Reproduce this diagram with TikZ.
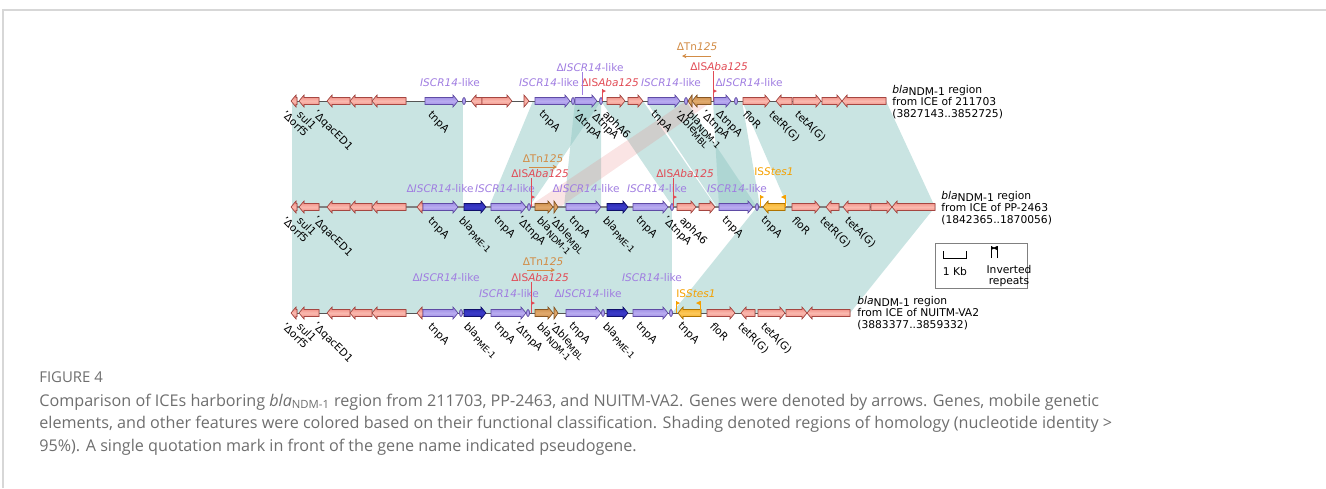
\documentclass[tikz,border=0pt]{standalone}
\usepackage{fontspec}
\setmainfont{DejaVu Sans}
\newfontfamily\capfont{Open Sans}
\usetikzlibrary{arrows.meta}

\definecolor{gpink}{RGB}{238,130,120}
\definecolor{gpinkl}{RGB}{250,185,175}
\definecolor{gpinkd}{RGB}{165,70,65}
\definecolor{gpurple}{RGB}{150,130,225}
\definecolor{gpurplel}{RGB}{185,172,240}
\definecolor{gpurpled}{RGB}{95,75,165}
\definecolor{gblue}{RGB}{35,35,170}
\definecolor{gbluel}{RGB}{60,60,200}
\definecolor{gblued}{RGB}{15,15,105}
\definecolor{gndm}{RGB}{200,135,65}
\definecolor{gndml}{RGB}{225,170,110}
\definecolor{gndmd}{RGB}{135,85,35}
\definecolor{gstes}{RGB}{245,170,30}
\definecolor{gstesl}{RGB}{252,200,90}
\definecolor{gstesd}{RGB}{175,115,0}
\definecolor{cisr}{RGB}{160,125,225}
\definecolor{caba}{RGB}{225,75,85}
\definecolor{ctn}{RGB}{210,140,70}
\definecolor{cstes}{RGB}{245,160,0}
\definecolor{chomo}{RGB}{147,201,197}
\definecolor{cinv}{RGB}{230,130,130}
\definecolor{bbone}{RGB}{85,85,85}
\definecolor{capgray}{RGB}{110,110,110}
\definecolor{framec}{RGB}{215,215,215}

\tikzset{
  pinkgene/.style={draw=gpinkd, line width=0.35pt, top color=gpink, bottom color=gpink, middle color=gpinkl},
  isgene/.style={draw=gpurpled, line width=0.35pt, top color=gpurple, bottom color=gpurple, middle color=gpurplel},
  pmegene/.style={draw=gblued, line width=0.35pt, top color=gblue, bottom color=gblue, middle color=gbluel},
  ndmgene/.style={draw=gndmd, line width=0.35pt, top color=gndm, bottom color=gndm, middle color=gndml},
  stesgene/.style={draw=gstesd, line width=0.35pt, top color=gstes, bottom color=gstes, middle color=gstesl},
  homo/.style={fill=chomo, fill opacity=0.5},
  invhomo/.style={fill=cinv, fill opacity=0.22},
  backbone/.style={draw=bbone, line width=0.5pt},
  glabel/.style={font=\fontsize{6}{7}\selectfont, rotate=-45, anchor=north west, inner sep=0pt},
  elab/.style={font=\fontsize{6}{7}\selectfont, inner sep=0pt},
  desc/.style={font=\fontsize{6.1}{6.9}\selectfont, inner sep=0pt, align=left},
  leader/.style={line width=0.3pt},
  tnarrow/.style={draw=ctn, line width=0.4pt, -{Stealth[length=2.5pt,width=2.5pt]}},
  captext/.style={font=\capfont\fontsize{9.2}{11}\selectfont, text=capgray, anchor=base west, inner sep=0pt}
}

% gene arrows: from, to, track y, style
\newcommand{\geneR}[4]{%
  \pgfmathsetmacro{\gnhead}{min(5,#2-#1)}%
  \filldraw[#4] (#1,#3-3.5) -- ({#2-\gnhead},#3-3.5) -- ({#2-\gnhead},#3-6) -- (#2,#3)
    -- ({#2-\gnhead},#3+6) -- ({#2-\gnhead},#3+3.5) -- (#1,#3+3.5) -- cycle;}
\newcommand{\geneL}[4]{%
  \pgfmathsetmacro{\gnhead}{min(5,#2-#1)}%
  \filldraw[#4] (#2,#3-3.5) -- ({#1+\gnhead},#3-3.5) -- ({#1+\gnhead},#3-6) -- (#1,#3)
    -- ({#1+\gnhead},#3+6) -- ({#1+\gnhead},#3+3.5) -- (#2,#3+3.5) -- cycle;}
% small IS ends
\newcommand{\isend}[2]{\filldraw[isgene] (#1,#2) ellipse (1.5 and 3.5);}
% inverted repeats
\newcommand{\flagR}[3]{%
  \draw[#3, line width=0.4pt] (#1,#2) -- (#1,#2-12);
  \fill[#3] (#1,#2-12) -- (#1+4,#2-10) -- (#1,#2-8) -- cycle;}
\newcommand{\flagL}[3]{%
  \draw[#3, line width=0.4pt] (#1,#2) -- (#1,#2-12);
  \fill[#3] (#1,#2-12) -- (#1-4,#2-10) -- (#1,#2-8) -- cycle;}
\newcommand{\glab}[4]{\node[glabel] (#1) at (#2,#3) {#4};}

\newcommand{\iscr}{\textit{ISCR14}-like}
\newcommand{\discr}{Δ\textit{ISCR14}-like}
\newcommand{\daba}{ΔIS\textit{Aba125}}
\newcommand{\dtn}{ΔTn\textit{125}}
\newcommand{\stes}{IS\textit{Stes1}}

\begin{document}
\begin{tikzpicture}[x=0.02cm,y=-0.02cm]
  \useasboundingbox (0,0) rectangle (1326,488);

  % frame
  \draw[framec, line width=0.6pt] (3,488) -- (3,10) -- (1326,10);

  % homology, track 1 to track 2
  \fill[homo] (292,101) -- (463,101) -- (463,207) -- (292,207) -- cycle;
  \fill[homo] (533,101) -- (601,101) -- (529,207) -- (489,207) -- cycle;
  \fill[homo] (575,101) -- (601,101) -- (601,207) -- (564,207) -- cycle;
  \fill[homo] (601,101) -- (643,101) -- (716,207) -- (673,207) -- cycle;
  \fill[homo] (646,101) -- (686,101) -- (757,207) -- (717,207) -- cycle;
  \fill[homo] (713,101) -- (742,101) -- (760,207) -- (719,207) -- cycle;
  \fill[homo] (742,101) -- (886,101) -- (935,207) -- (788,207) -- cycle;
  \fill[invhomo] (686,101) -- (713,101) -- (560,207) -- (528,207) -- cycle;

  % homology, track 2 to track 3
  \fill[homo] (292,207) -- (672,207) -- (672,313) -- (292,313) -- cycle;
  \fill[homo] (757,207) -- (935,207) -- (850,313) -- (672,313) -- cycle;

  % backbones
  \draw[backbone] (292,101) -- (886,101);
  \draw[backbone, draw=gray, line width=1pt] (292,207) -- (935,207);
  \draw[backbone] (292,313) -- (850,313);

  % shared left part
  \foreach \ty in {101,207,313}{
    \geneL{291}{297}{\ty}{pinkgene}
    \geneL{299}{319}{\ty}{pinkgene}
    \geneL{327}{350}{\ty}{pinkgene}
    \geneL{350}{372}{\ty}{pinkgene}
    \geneL{372}{406}{\ty}{pinkgene}
    \node[glabel] (orf\ty) at (287,\ty+8) {'Δorf5};
    \node[glabel] (sul\ty) at (302,\ty+8) {sul1};
    \node[glabel] (qac\ty) at (318,\ty+8) {'ΔqacED1};
    \node[glabel] (tnpa\ty) at (433,\ty+9) {tnpA};
  }

  % track 1
  \geneR{425}{458}{101}{isgene}
  \isend{464}{101}
  \geneL{471}{482}{101}{pinkgene}
  \geneR{482}{512}{101}{pinkgene}
  \geneR{524}{529}{101}{pinkgene}
  \geneR{535}{570}{101}{isgene}
  \isend{573}{101}
  \geneR{575}{597}{101}{isgene}
  \isend{601}{101}
  \flagR{602}{101}{caba}
  \geneR{607}{625}{101}{pinkgene}
  \geneR{628}{643}{101}{pinkgene}
  \geneR{648}{680}{101}{isgene}
  \isend{686}{101}
  \geneL{688}{692}{101}{ndmgene}
  \geneL{692}{711}{101}{ndmgene}
  \flagR{713}{101}{caba}
  \geneR{714}{731}{101}{isgene}
  \isend{736}{101}
  \geneR{743}{770}{101}{pinkgene}
  \geneL{776}{792}{101}{pinkgene}
  \geneR{793}{821}{101}{pinkgene}
  \geneR{822}{842}{101}{pinkgene}
  \geneL{842}{886}{101}{pinkgene}

  \glab{a1}{544}{109}{tnpA}
  \glab{a2}{578}{109}{'ΔtnpA}
  \glab{a3}{595}{109}{'ΔtnpA}
  \glab{a4}{608}{109}{aphA6}
  \glab{a5}{656}{109}{tnpA}
  \glab{a6}{680}{109}{'Δble\textsubscript{MBL}}
  \glab{a7}{692}{109}{bla\textsubscript{NDM-1}}
  \glab{a8}{706}{109}{'ΔtnpA}
  \glab{a9}{721}{109}{ΔtnpA}
  \glab{a10}{748}{109}{floR}
  \glab{a11}{774}{109}{tetR(G)}
  \glab{a12}{800}{109}{tetA(G)}

  \node[elab, text=cisr] (i1a) at (450,83) {\iscr};
  \node[elab, text=cisr] (i1b) at (549,83) {\iscr};
  \node[elab, text=cisr] (i1c) at (590,68) {\discr};
  \node[elab, text=caba] (i1d) at (610,83) {\daba};
  \node[elab, text=cisr] (i1e) at (671,83) {\iscr};
  \node[elab, text=ctn] (i1f) at (697,47) {\dtn};
  \node[elab, text=caba] (i1g) at (719,67) {\daba};
  \node[elab, text=cisr] (i1h) at (749,83) {\discr};
  \coordinate (c1a) at (582,95);
  \coordinate (c1b) at (713,89);
  \draw[leader, cisr] (i1c.south -| c1a) -- (c1a);
  \draw[leader, caba] (i1g.south -| c1b) -- (c1b);
  \coordinate (tn1s) at (711,56);
  \coordinate (tn1e) at (682,56);
  \draw[tnarrow] (tn1s) -- (tn1e);

  \node[desc, anchor=north west] (d1) at (892,85)
    {\textit{bla}\raisebox{-1.2pt}{NDM-1} region\\from ICE of 211703\\(3827143..3852725)};

  % track 2
  \geneL{417}{423}{207}{pinkgene}
  \geneR{423}{458}{207}{isgene}
  \geneR{464}{486}{207}{pmegene}
  \geneR{491}{526}{207}{isgene}
  \isend{529}{207}
  \flagR{531}{207}{caba}
  \geneR{535}{553}{207}{ndmgene}
  \geneR{554}{558}{207}{ndmgene}
  \geneR{566}{601}{207}{isgene}
  \geneR{607}{628}{207}{pmegene}
  \geneR{633}{668}{207}{isgene}
  \isend{672}{207}
  \flagR{673}{207}{caba}
  \geneR{677}{696}{207}{pinkgene}
  \geneR{699}{715}{207}{pinkgene}
  \geneR{719}{753}{207}{isgene}
  \isend{757}{207}
  \flagR{760}{207}{cstes}
  \geneL{763}{785}{207}{stesgene}
  \flagL{785}{207}{cstes}
  \geneR{792}{820}{207}{pinkgene}
  \geneL{826}{839}{207}{pinkgene}
  \geneL{843}{870}{207}{pinkgene}
  \geneR{871}{892}{207}{pinkgene}
  \geneL{892}{935}{207}{pinkgene}

  \glab{b1}{464}{215}{bla\textsubscript{PME-1}}
  \glab{b2}{499}{215}{tnpA}
  \glab{b3}{522}{215}{'ΔtnpA}
  \glab{b4}{542}{215}{bla\textsubscript{NDM-1}}
  \glab{b5}{555}{215}{'Δble\textsubscript{MBL}}
  \glab{b6}{574}{215}{tnpA}
  \glab{b7}{608}{215}{bla\textsubscript{PME-1}}
  \glab{b8}{641}{215}{tnpA}
  \glab{b9}{668}{215}{'ΔtnpA}
  \glab{b10}{685}{215}{aphA6}
  \glab{b11}{727}{215}{tnpA}
  \glab{b12}{766}{215}{tnpA}
  \glab{b13}{797}{215}{floR}
  \glab{b14}{825}{215}{tetR(G)}
  \glab{b15}{850}{215}{tetA(G)}

  \node[elab, text=cisr] (i2a) at (440,189) {\discr};
  \node[elab, text=cisr] (i2b) at (505,189) {\iscr};
  \node[elab, text=ctn] (i2c) at (543,159) {\dtn};
  \node[elab, text=caba] (i2d) at (540,174) {\daba};
  \node[elab, text=cisr] (i2e) at (586,189) {\discr};
  \node[elab, text=cisr] (i2f) at (657,189) {\iscr};
  \node[elab, text=caba] (i2g) at (685,174) {\daba};
  \node[elab, text=cisr] (i2h) at (737,189) {\iscr};
  \node[elab, text=cstes] (i2i) at (774,172) {\stes};
  \coordinate (c2a) at (531,195);
  \coordinate (c2b) at (673,195);
  \draw[leader, caba] (i2d.south -| c2a) -- (c2a);
  \draw[leader, caba] (i2g.south -| c2b) -- (c2b);
  \coordinate (tn2s) at (529,167);
  \coordinate (tn2e) at (557,167);
  \draw[tnarrow] (tn2s) -- (tn2e);

  \node[desc, anchor=north west] (d2) at (941,191)
    {\textit{bla}\raisebox{-1.2pt}{NDM-1} region\\from ICE of PP-2463\\(1842365..1870056)};

  % track 3
  \geneL{417}{423}{313}{pinkgene}
  \geneR{423}{458}{313}{isgene}
  \isend{461}{313}
  \geneR{464}{486}{313}{pmegene}
  \geneR{491}{526}{313}{isgene}
  \isend{528}{313}
  \flagR{531}{313}{caba}
  \geneR{535}{553}{313}{ndmgene}
  \geneR{554}{558}{313}{ndmgene}
  \geneR{566}{601}{313}{isgene}
  \isend{603}{313}
  \geneR{607}{628}{313}{pmegene}
  \geneR{633}{668}{313}{isgene}
  \isend{671}{313}
  \flagR{676}{313}{cstes}
  \geneL{678}{701}{313}{stesgene}
  \flagL{700}{313}{cstes}
  \geneR{707}{735}{313}{pinkgene}
  \geneL{741}{755}{313}{pinkgene}
  \geneR{758}{785}{313}{pinkgene}
  \geneR{786}{807}{313}{pinkgene}
  \geneL{807}{850}{313}{pinkgene}

  \glab{e1}{469}{321}{bla\textsubscript{PME-1}}
  \glab{e2}{499}{321}{tnpA}
  \glab{e3}{519}{321}{'ΔtnpA}
  \glab{e4}{542}{321}{bla\textsubscript{NDM-1}}
  \glab{e5}{555}{321}{'Δble\textsubscript{MBL}}
  \glab{e6}{574}{321}{tnpA}
  \glab{e7}{608}{321}{bla\textsubscript{PME-1}}
  \glab{e8}{641}{321}{tnpA}
  \glab{e9}{683}{321}{tnpA}
  \glab{e10}{715}{321}{floR}
  \glab{e11}{743}{321}{tetR(G)}
  \glab{e12}{766}{321}{tetA(G)}

  \node[elab, text=ctn] (i3a) at (543,262) {\dtn};
  \node[elab, text=cisr] (i3b) at (446,278) {\discr};
  \node[elab, text=caba] (i3c) at (540,278) {\daba};
  \node[elab, text=cisr] (i3d) at (509,294) {\iscr};
  \node[elab, text=cisr] (i3e) at (588,294) {\discr};
  \node[elab, text=cisr] (i3f) at (652,278) {\iscr};
  \node[elab, text=cstes] (i3g) at (696,294) {\stes};
  \coordinate (c3a) at (531,301);
  \draw[leader, caba] (i3c.south -| c3a) -- (c3a);
  \coordinate (tn3s) at (527,270);
  \coordinate (tn3e) at (555,270);
  \draw[tnarrow] (tn3s) -- (tn3e);

  \node[desc, anchor=north west] (d3) at (857,296)
    {\textit{bla}\raisebox{-1.2pt}{NDM-1} region\\from ICE of NUITM-VA2\\(3883377..3859332)};

  % legend
  \draw[gray, line width=0.5pt] (935,243) rectangle (1027,288);
  \draw[black, line width=0.4pt] (943,251) -- (943,258) -- (966,258) -- (966,251);
  \node[desc] (kb) at (955,271) {1 Kb};
  \flagR{991}{258}{black}
  \flagL{997}{258}{black}
  \node[desc, align=center, font=\fontsize{6.1}{5.8}\selectfont] (inv) at (1009,276) {Inverted\\repeats};

  % caption
  \node[captext, font=\capfont\fontsize{8.5}{10}\selectfont] (fig) at (39,382) {FIGURE 4};
  \node[captext] (cap1) at (39,406) {Comparison of ICEs harboring \textit{bla}\textsubscript{NDM-1} region from 211703, PP-2463, and NUITM-VA2. Genes were denoted by arrows. Genes, mobile genetic};
  \node[captext] (cap2) at (39,428.5) {elements, and other features were colored based on their functional classification. Shading denoted regions of homology (nucleotide identity >};
  \node[captext] (cap3) at (39,451) {95\%). A single quotation mark in front of the gene name indicated pseudogene.};
\end{tikzpicture}
\end{document}
